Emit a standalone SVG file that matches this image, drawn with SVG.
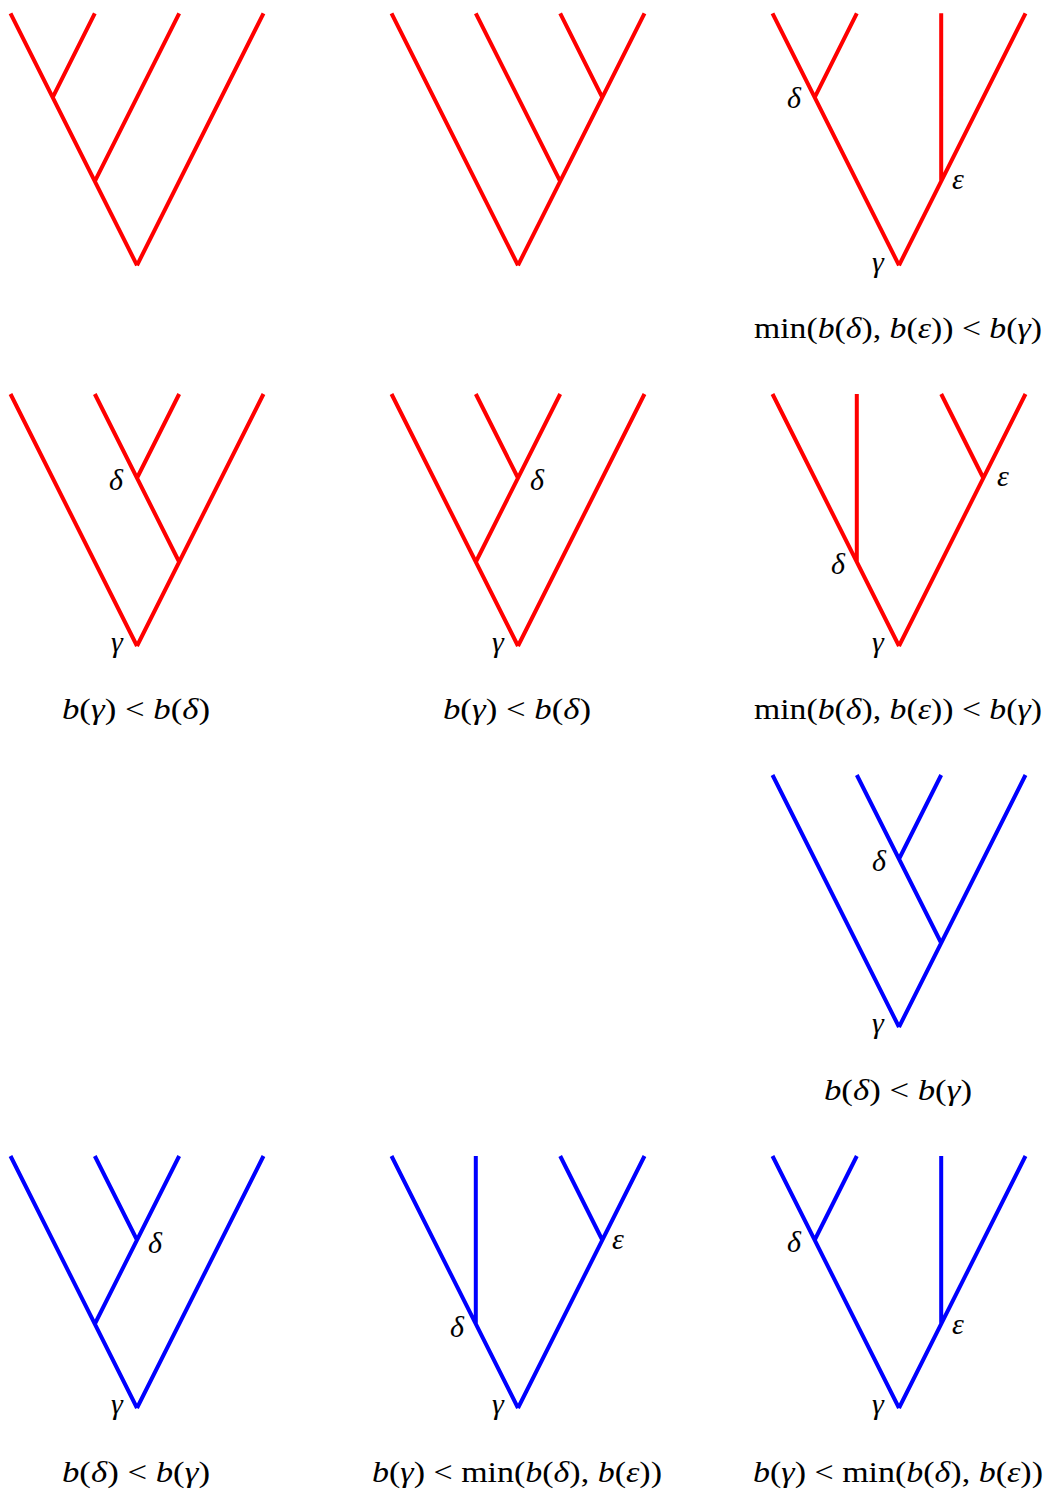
<svg xmlns="http://www.w3.org/2000/svg" width="1057" height="1499" viewBox="0 0 1057 1499">
<style>
  .r { stroke: #ff0000; }
  .bl { stroke: #0000ff; }
  .t { fill: none; stroke-width: 4; stroke-linecap: butt; stroke-linejoin: miter; }
  .g { font-family: "Liberation Serif", "Times New Roman", serif; font-size: 30px; font-style: italic; fill: #000; text-anchor: middle; }
  .m { font-family: "Liberation Serif", "Times New Roman", serif; font-size: 30px; fill: #000; text-anchor: middle; }
  .i { font-style: italic; }
</style>
<rect width="1057" height="1499" fill="#ffffff"/>
<g id="connectors">
  <g id="tree-r1c1" transform="translate(137,265.3)">
    <path class="t r" d="M-126.5-252L0 0M126.5-252L0 0M-42.2-252L-84.3-168M42.2-252L-42.2-84"/>
  </g>
  <g id="tree-r1c2" transform="translate(518,265.3)">
    <path class="t r" d="M-126.5-252L0 0M126.5-252L0 0M42.2-252L84.3-168M-42.2-252L42.2-84"/>
  </g>
  <g id="tree-r1c3" transform="translate(899,265.3)">
    <path class="t r" d="M-126.5-252L0 0M126.5-252L0 0M-42.2-252L-84.3-168M42.2-252L42.2-84"/>
  </g>
  <g id="tree-r2c1" transform="translate(137,646)">
    <path class="t r" d="M-126.5-252L0 0M126.5-252L0 0M-42.2-252L42.2-84M42.2-252L0-168"/>
  </g>
  <g id="tree-r2c2" transform="translate(518,646)">
    <path class="t r" d="M-126.5-252L0 0M126.5-252L0 0M42.2-252L-42.2-84M-42.2-252L0-168"/>
  </g>
  <g id="tree-r2c3" transform="translate(899,646)">
    <path class="t r" d="M-126.5-252L0 0M126.5-252L0 0M-42.2-252L-42.2-84M42.2-252L84.3-168"/>
  </g>
  <g id="tree-r3c3" transform="translate(899,1027)">
    <path class="t bl" d="M-126.5-252L0 0M126.5-252L0 0M-42.2-252L42.2-84M42.2-252L0-168"/>
  </g>
  <g id="tree-r4c1" transform="translate(137,1408)">
    <path class="t bl" d="M-126.5-252L0 0M126.5-252L0 0M42.2-252L-42.2-84M-42.2-252L0-168"/>
  </g>
  <g id="tree-r4c2" transform="translate(518,1408)">
    <path class="t bl" d="M-126.5-252L0 0M126.5-252L0 0M-42.2-252L-42.2-84M42.2-252L84.3-168"/>
  </g>
  <g id="tree-r4c3" transform="translate(899,1408)">
    <path class="t bl" d="M-126.5-252L0 0M126.5-252L0 0M-42.2-252L-84.3-168M42.2-252L42.2-84"/>
  </g>
</g>

<g id="node-labels">
  <text class="g" x="794" y="108">δ</text>
  <text class="g" x="958" y="189">ε</text>
  <text class="g" x="878" y="272">γ</text>
  <text class="g" x="116" y="490">δ</text>
  <text class="g" x="117" y="652">γ</text>
  <text class="g" x="537" y="490">δ</text>
  <text class="g" x="498" y="652">γ</text>
  <text class="g" x="838" y="574">δ</text>
  <text class="g" x="1003" y="486">ε</text>
  <text class="g" x="878" y="652">γ</text>
  <text class="g" x="879" y="871">δ</text>
  <text class="g" x="878" y="1033">γ</text>
  <text class="g" x="155" y="1253">δ</text>
  <text class="g" x="117" y="1414">γ</text>
  <text class="g" x="457" y="1337">δ</text>
  <text class="g" x="618" y="1249">ε</text>
  <text class="g" x="498" y="1414">γ</text>
  <text class="g" x="794" y="1252">δ</text>
  <text class="g" x="958" y="1334">ε</text>
  <text class="g" x="878" y="1414">γ</text>
</g>

<g id="conditions">
  <text id="cond-r1c3" class="m" x="898" y="338" textLength="288" lengthAdjust="spacingAndGlyphs">min(<tspan class="i">b</tspan>(<tspan class="i">δ</tspan>), <tspan class="i">b</tspan>(<tspan class="i">ε</tspan>)) &lt; <tspan class="i">b</tspan>(<tspan class="i">γ</tspan>)</text>
  <text id="cond-r2c1" class="m" x="136" y="719" textLength="148" lengthAdjust="spacingAndGlyphs"><tspan class="i">b</tspan>(<tspan class="i">γ</tspan>) &lt; <tspan class="i">b</tspan>(<tspan class="i">δ</tspan>)</text>
  <text id="cond-r2c2" class="m" x="517" y="719" textLength="148" lengthAdjust="spacingAndGlyphs"><tspan class="i">b</tspan>(<tspan class="i">γ</tspan>) &lt; <tspan class="i">b</tspan>(<tspan class="i">δ</tspan>)</text>
  <text id="cond-r2c3" class="m" x="898" y="719" textLength="288" lengthAdjust="spacingAndGlyphs">min(<tspan class="i">b</tspan>(<tspan class="i">δ</tspan>), <tspan class="i">b</tspan>(<tspan class="i">ε</tspan>)) &lt; <tspan class="i">b</tspan>(<tspan class="i">γ</tspan>)</text>
  <text id="cond-r3c3" class="m" x="898" y="1100" textLength="148" lengthAdjust="spacingAndGlyphs"><tspan class="i">b</tspan>(<tspan class="i">δ</tspan>) &lt; <tspan class="i">b</tspan>(<tspan class="i">γ</tspan>)</text>
  <text id="cond-r4c1" class="m" x="136" y="1482" textLength="148" lengthAdjust="spacingAndGlyphs"><tspan class="i">b</tspan>(<tspan class="i">δ</tspan>) &lt; <tspan class="i">b</tspan>(<tspan class="i">γ</tspan>)</text>
  <text id="cond-r4c2" class="m" x="517" y="1482" textLength="290" lengthAdjust="spacingAndGlyphs"><tspan class="i">b</tspan>(<tspan class="i">γ</tspan>) &lt; min(<tspan class="i">b</tspan>(<tspan class="i">δ</tspan>), <tspan class="i">b</tspan>(<tspan class="i">ε</tspan>))</text>
  <text id="cond-r4c3" class="m" x="898" y="1482" textLength="290" lengthAdjust="spacingAndGlyphs"><tspan class="i">b</tspan>(<tspan class="i">γ</tspan>) &lt; min(<tspan class="i">b</tspan>(<tspan class="i">δ</tspan>), <tspan class="i">b</tspan>(<tspan class="i">ε</tspan>))</text>
</g>
</svg>
